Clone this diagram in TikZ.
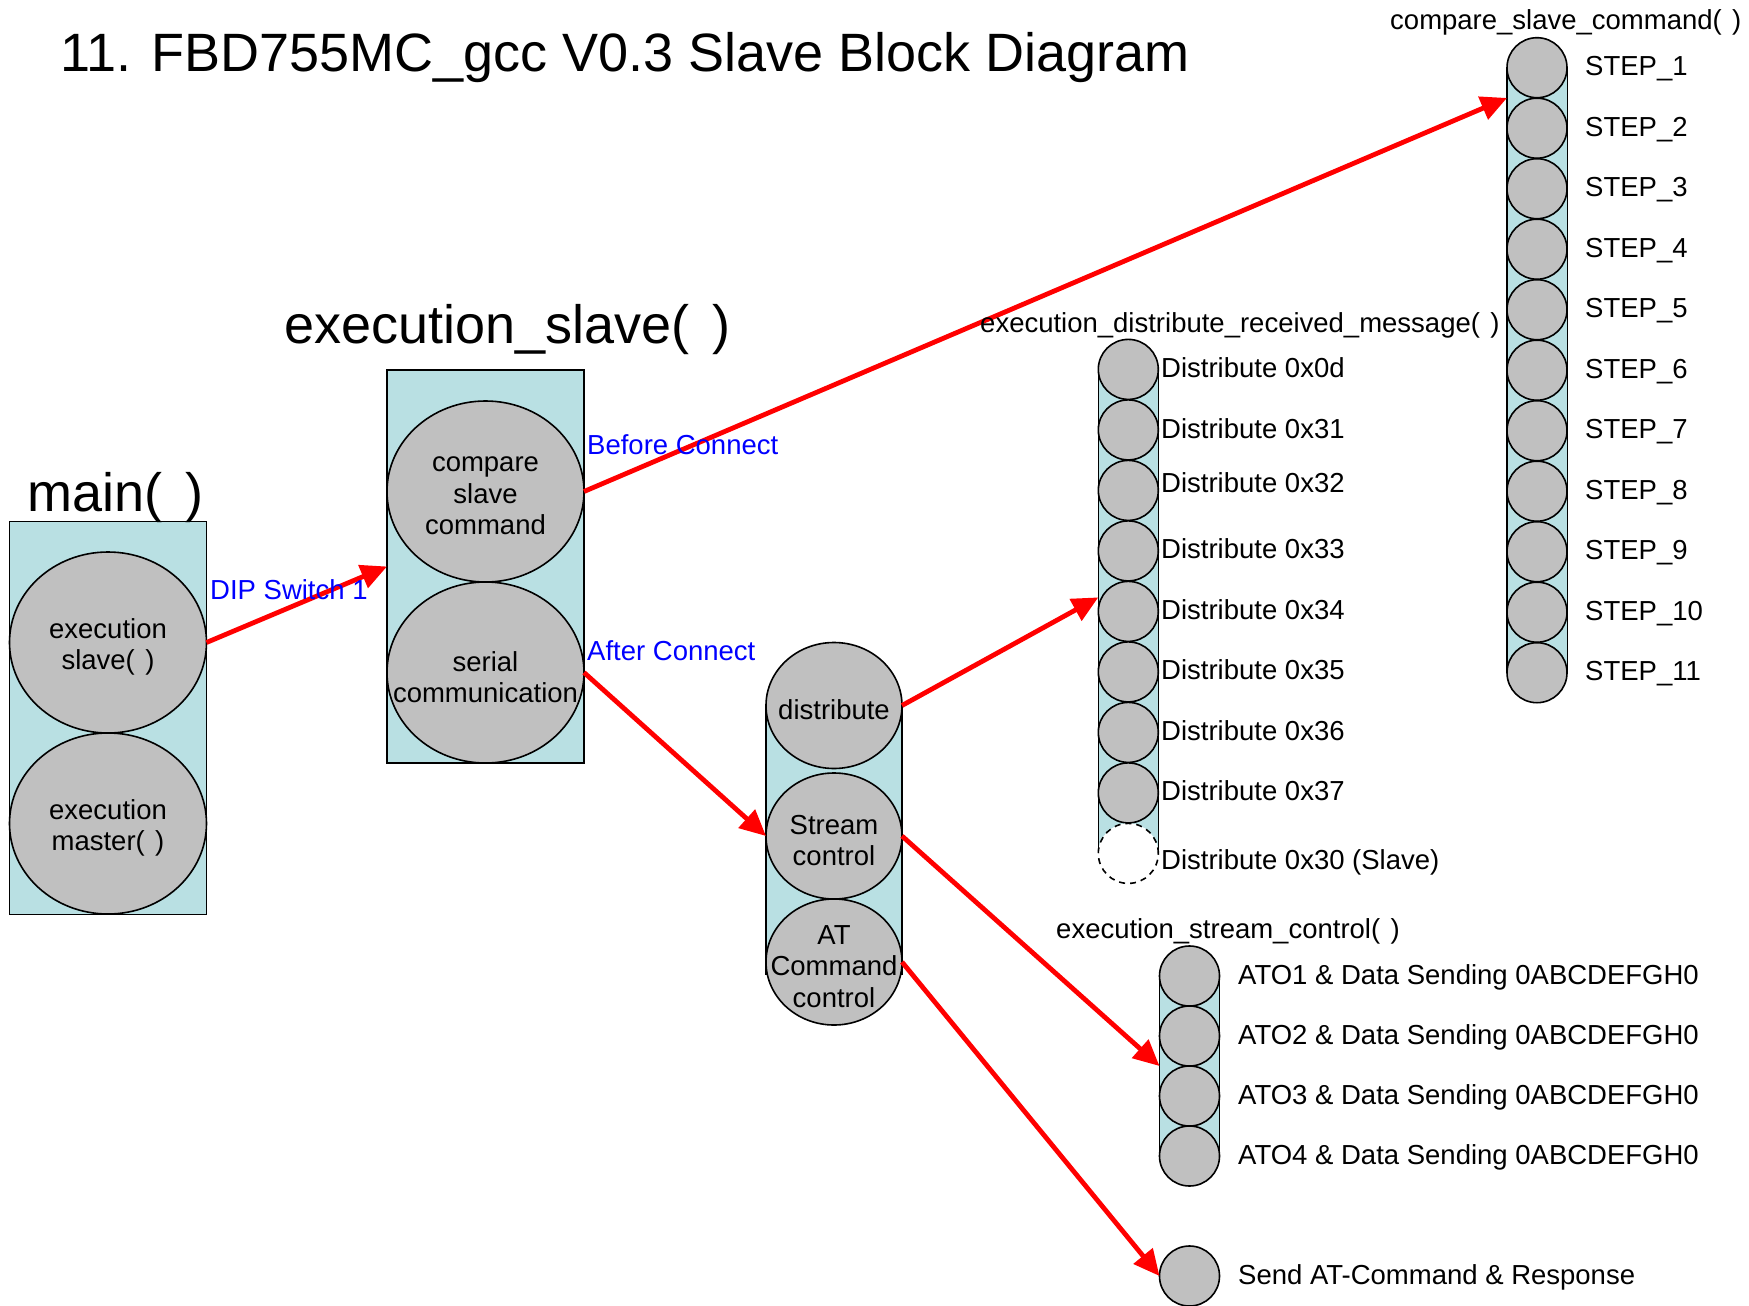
\documentclass[tikz,border=0pt]{standalone}
\usepackage{fontspec}
\setmainfont{Liberation Sans}
\usetikzlibrary{shapes.geometric,arrows.meta,calc}
\definecolor{lblue}{RGB}{185,224,227}
\definecolor{cgray}{RGB}{192,192,192}
\newcommand\myfs{\fontsize{27.5}{31.5}\selectfont}
\newcommand\myfb{\fontsize{54}{60}\selectfont}
\begin{document}
\begin{tikzpicture}[x=1pt,y=-1pt,
  mybox/.style={draw=black, line width=1.4pt, fill=lblue, inner sep=0pt, outer sep=0pt},
  bigell/.style={ellipse, draw=black, line width=1.6pt, fill=cgray, inner sep=0pt, outer sep=0pt, minimum width=197pt, minimum height=181pt},
  midell/.style={ellipse, draw=black, line width=1.6pt, fill=cgray, inner sep=0pt, outer sep=0pt, minimum width=136pt, minimum height=126pt},
  bead/.style={circle, draw=black, line width=1.6pt, fill=cgray, inner sep=0pt, outer sep=0pt, minimum size=60pt},
  beaddash/.style={bead, fill=white, dash pattern=on 6pt off 5pt},
  etext/.style={align=center, font=\myfs, inner sep=0pt, yshift=-4.5pt},
  sidelab/.style={anchor=base west, font=\myfs, inner sep=0pt},
  bigtxt/.style={anchor=base west, font=\myfb, inner sep=0pt},
  bluelab/.style={anchor=base west, font=\myfs, text=blue, inner sep=0pt},
  redarr/.style={draw=red, line width=4.8pt, -{Triangle[length=26pt,width=24pt]}},
  strip/.style={line width=1.6pt}
]
\useasboundingbox (0,0) rectangle (1749,1306);

% ---------- main( ) ----------
\node[mybox, minimum width=197pt, minimum height=393pt, anchor=north west] (mainbox) at (9.6,521.5) {};
\node[bigell] (es) at (108,642.5) {};
\node[bigell] (em) at (108,823.5) {};
\node[etext] at (es.center) {execution\\slave(\hspace{0.1em} )};
\node[etext] at (em.center) {execution\\master(\hspace{0.1em} )};

% ---------- execution_slave( ) ----------
\node[mybox, minimum width=197pt, minimum height=393pt, anchor=north west] (exbox) at (387,370) {};
\node[bigell] (csc) at (485.5,491.5) {};
\node[bigell] (ser) at (485.5,672.5) {};
\node[etext] at (csc.center) {compare\\slave\\command};
\node[etext] at (ser.center) {serial\\communication};

% ---------- distribute / stream / AT column ----------
\fill[lblue] (766,705.5) rectangle (902,975);
\draw[strip] (766,705.5) -- (766,975) (902,705.5) -- (902,975);
\node[midell] (dis) at (834,705.5) {};
\node[midell] (stc) at (834,836) {};
\node[midell] (atc) at (834,962) {};
\node[etext] at (dis.center) {distribute};
\node[etext] at (stc.center) {Stream\\control};
\node[etext] at (atc.center) {AT\\Command\\control};

% ---------- distribute column ----------
\fill[lblue] (1098.3,369.4) rectangle (1158.3,853.4);
\draw[strip] (1098.3,369.4) -- (1098.3,853.4) (1158.3,369.4) -- (1158.3,853.4);
\foreach \i in {1,...,8}{
  \node[bead] (d\i) at (1128.3,{369.4+60.5*(\i-1)}) {};
}
\node[beaddash] (d9) at (1128.3,853.4) {};

% ---------- STEP column ----------
\fill[lblue] (1506.7,67.7) rectangle (1567.3,672.7);
\draw[strip] (1506.7,67.7) -- (1506.7,672.7) (1567.3,67.7) -- (1567.3,672.7);
\foreach \i in {1,...,11}{
  \node[bead] (s\i) at (1537,{67.7+60.5*(\i-1)}) {};
}

% ---------- ATO column ----------
\fill[lblue] (1159.5,976) rectangle (1219.5,1156);
\draw[strip] (1159.5,976) -- (1159.5,1156) (1219.5,976) -- (1219.5,1156);
\foreach \i/\y in {1/976,2/1036,3/1096,4/1156}{
  \node[bead] (a\i) at (1189.5,\y) {};
}
\node[bead] (snd) at (1189.5,1276) {};

% ---------- arrows ----------
\draw[redarr] (es.east) -- (exbox.west);
\draw[redarr] (csc.east) -- ($(s1.west)!0.5!(s2.west)$);
\draw[redarr] (ser.east) -- (stc.west);
\draw[redarr] (dis.east) -- ($(d5.west)+(0,-14)$);
\draw[redarr] (stc.east) -- ($(a2.west)!0.5!(a3.west)$);
\draw[redarr] (atc.east) -- (snd.west);

% ---------- titles ----------
\node[bigtxt] (title) at (60,71.7) {11. FBD755MC\_gcc V0.3 Slave Block Diagram};
\node[bigtxt] (tmain) at (27.5,511) {main(\hspace{0.15em} )};
\node[bigtxt] (texs) at (284,343) {execution\_slave(\hspace{0.15em} )};
\node[sidelab] (tcsc) at (1390,30) {compare\_slave\_command(\hspace{0.1em} )};
\node[sidelab] (tedr) at (980,332) {execution\_distribute\_received\_message(\hspace{0.1em} )};
\node[sidelab] (tesc) at (1056,938) {execution\_stream\_control(\hspace{0.1em} )};

% ---------- blue labels ----------
\node[bluelab] (ldip) at (210,599) {DIP Switch 1};
\node[bluelab] (lbef) at (587,454.5) {Before Connect};
\node[bluelab] (laft) at (587,660) {After Connect};

% ---------- distribute labels ----------
\foreach \t/\y in {Distribute 0x0d/377.5, Distribute 0x31/438, Distribute 0x32/492.3,
  Distribute 0x33/558.9, Distribute 0x34/619.2, Distribute 0x35/679.1,
  Distribute 0x36/740.2, Distribute 0x37/800.1, Distribute 0x30 (Slave)/869.6}{
  \node[sidelab] at (1161,\y) {\t};
}

% ---------- STEP labels ----------
\foreach \i in {1,...,11}{
  \node[sidelab] at (1585,{67.7+60.5*(\i-1)+8}) {STEP\_\i};
}

% ---------- ATO labels ----------
\foreach \i/\y in {1/984,2/1044,3/1104,4/1164}{
  \node[sidelab] at (1238,\y) {ATO\i\ \& Data Sending 0ABCDEFGH0};
}
\node[sidelab] at (1238,1284) {Send AT-Command \& Response};
\end{tikzpicture}
\end{document}
